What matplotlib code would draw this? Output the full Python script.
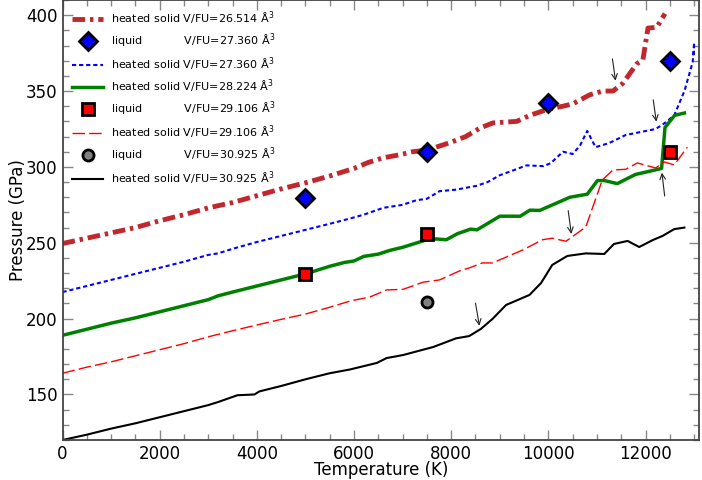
import matplotlib
matplotlib.use("Agg")
import matplotlib.pyplot as plt
from matplotlib.ticker import MultipleLocator

# heated solid curves
T_26514 = [0, 500, 1000, 1500, 2000, 2500, 3000, 3500, 4000, 4500, 5000, 5500, 6000,
           6300, 6600, 6944, 7200, 7500, 7973, 8300, 8590, 8860, 9100, 9350, 9620, 9990,
           10300, 10500, 10850, 11120, 11330, 11530, 11820, 11945, 12050, 12230, 12400]
P_26514 = [249.5, 253, 256.5, 260, 264.5, 268.5, 273, 276.5, 281, 285.5, 289.5, 294, 299,
           303, 306, 308, 310, 311, 316, 320, 325.6, 329, 329.5, 330, 334, 338,
           340, 341.5, 347.5, 350, 350, 355, 368, 370.5, 391.5, 392, 401]

T_27360 = [0, 500, 1000, 1500, 2000, 2500, 3000, 3200, 3500, 4000, 4500, 5000, 5500, 5920,
           6200, 6600, 7000, 7280, 7500, 7760, 8100, 8520, 8750, 9000, 9300, 9550, 9900,
           10050, 10300, 10500, 10650, 10800, 10970, 11250, 11590, 11900, 12210, 12400,
           12590, 12800, 12970, 13000, 12990]
P_27360 = [217.5, 221.5, 225.5, 229.5, 233.5, 237.5, 242, 243, 246, 250.5, 254.5, 258.5,
           262.5, 266, 268.5, 273, 275, 278, 279, 284, 285, 287.5, 290, 294.5, 298, 301,
           300.5, 302.5, 310, 308.5, 314, 323.7, 313, 315.7, 321, 323, 325, 329,
           334, 350, 369, 382, 372]

T_28224 = [0, 500, 1000, 1500, 2000, 2500, 3000, 3200, 3500, 4000, 4500, 5000, 5500, 5800,
           6000, 6200, 6500, 6740, 7000, 7500, 7700, 7900, 8130, 8400, 8530, 9000, 9420,
           9620, 9820, 10230, 10440, 10800, 11010, 11150, 11420, 11790, 12200, 12330,
           12400, 12600, 12800]
P_28224 = [189, 193, 197, 200.5, 204.5, 208.5, 212.5, 215, 217.5, 221.5, 225.5, 229.5,
           234.5, 237, 238, 241, 242.5, 245, 247, 252, 252.5, 252, 256, 259, 258.5, 267.5,
           267.5, 271.5, 271.3, 277, 280, 282, 291, 291, 289, 295, 298, 299,
           326, 334, 335.5]

T_29106 = [0, 500, 1000, 1500, 2000, 2500, 3000, 3500, 4000, 4500, 5000, 5500, 5920, 6330,
           6670, 7010, 7420, 7760, 8170, 8370, 8640, 8850, 9470, 9880, 10080, 10360, 10430,
           10770, 11110, 11330, 11590, 11830, 12210, 12380, 12590, 12860]
P_29106 = [164, 168, 171.5, 175.5, 179.5, 183.5, 188, 192, 195.8, 199.5, 203, 207.5, 211.6,
           214.3, 218.9, 219.3, 224, 225.5, 231.4, 233.4, 236.7, 236.7, 245.2, 252, 253,
           251, 252.5, 260.4, 291.4, 298, 298.4, 302.6, 299.3, 303.3, 301.3, 313]

T_30925 = [0, 500, 1000, 1500, 2000, 2500, 3000, 3200, 3600, 3950, 4050, 4500, 5000, 5500,
           5920, 6470, 6670, 7010, 7630, 8100, 8370, 8610, 8850, 9130, 9610, 9850, 10080,
           10390, 10770, 11150, 11350, 11630, 11870, 12150, 12350, 12590, 12800]
P_30925 = [120, 123.5, 127.5, 131, 135, 139, 143, 145, 149.5, 150, 152, 155.6, 160, 164,
           166.5, 170.8, 174, 176, 181.3, 187, 188.5, 193.2, 199.8, 209, 215.6, 223.5,
           235.4, 241.3, 243, 242.6, 249.2, 251.2, 247.2, 251.8, 254.5, 259, 260]

# liquid points
T_liq_27360 = [5000, 7500, 10000, 12500]
P_liq_27360 = [279.5, 310, 342, 369.5]
T_liq_29106 = [5000, 7500, 12500]
P_liq_29106 = [229.4, 256, 310]
T_liq_30925 = [7500]
P_liq_30925 = [211]

# arrows marking melting (tail -> head)
ARROWS = [((11310, 373), (11390, 355)),
          ((12150, 346), (12230, 328)),
          ((12400, 279), (12330, 298)),
          ((10400, 273), (10480, 254)),
          ((8490, 212), (8590, 193.5))]

AA = r"$\mathrm{\AA}^3$"
SP = " " * 12

fig = plt.figure(figsize=(7.02, 4.8), dpi=100)
ax = fig.add_axes([62.5 / 702, 40 / 480, (699 - 62.5) / 702, 440 / 480])

ax.plot(T_26514, P_26514, color="#c1272d", lw=3.5, dashes=(2.6, 1.0, 0.7, 1.0),
        label="heated solid V/FU=26.514 " + AA)
ax.plot(T_liq_27360, P_liq_27360, ls="none", marker="D", ms=9, mfc="#0000ff",
        mec="black", mew=2, label="liquid" + SP + "V/FU=27.360 " + AA, zorder=5)
ax.plot(T_27360, P_27360, color="#0000ff", lw=1.5, dashes=(2, 1.4),
        label="heated solid V/FU=27.360 " + AA)
ax.plot(T_28224, P_28224, color="#008000", lw=2.5,
        label="heated solid V/FU=28.224 " + AA)
ax.plot(T_liq_29106, P_liq_29106, ls="none", marker="s", ms=8, mfc="#ff0000",
        mec="black", mew=2, label="liquid" + SP + "V/FU=29.106 " + AA, zorder=5)
ax.plot(T_29106, P_29106, color="#ff0000", lw=1.0, dashes=(9, 3),
        label="heated solid V/FU=29.106 " + AA)
ax.plot(T_liq_30925, P_liq_30925, ls="none", marker="o", ms=8, mfc="#808080",
        mec="black", mew=2, label="liquid" + SP + "V/FU=30.925 " + AA, zorder=5)
ax.plot(T_30925, P_30925, color="black", lw=1.5,
        label="heated solid V/FU=30.925 " + AA)

for (tx, ty), (hx, hy) in ARROWS:
    ax.annotate("", xy=(hx, hy), xytext=(tx, ty),
                arrowprops=dict(arrowstyle="->", lw=0.8, color="#222222"))

ax.set_xlim(0, 13100)
ax.set_ylim(120, 410)
ax.xaxis.set_major_locator(MultipleLocator(2000))
ax.xaxis.set_minor_locator(MultipleLocator(500))
ax.yaxis.set_major_locator(MultipleLocator(50))
ax.yaxis.set_minor_locator(MultipleLocator(10))
ax.tick_params(which="both", direction="in", top=True, right=True,
               color="#888888", labelsize=12)
ax.tick_params(which="major", length=7, width=1)
ax.tick_params(which="minor", length=4, width=1)
for s in ax.spines.values():
    s.set_color("#444444")
    s.set_linewidth(1.3)

ax.set_xlabel("Temperature (K)", fontsize=12, labelpad=-1)
ax.set_ylabel("Pressure (GPa)", fontsize=12, labelpad=-1)

ax.legend(loc="upper left", frameon=False, fontsize=8, handlelength=2.8,
          handletextpad=0.7, labelspacing=0.45, numpoints=1, borderaxespad=0.45)

fig.savefig("out.png", dpi=100)
